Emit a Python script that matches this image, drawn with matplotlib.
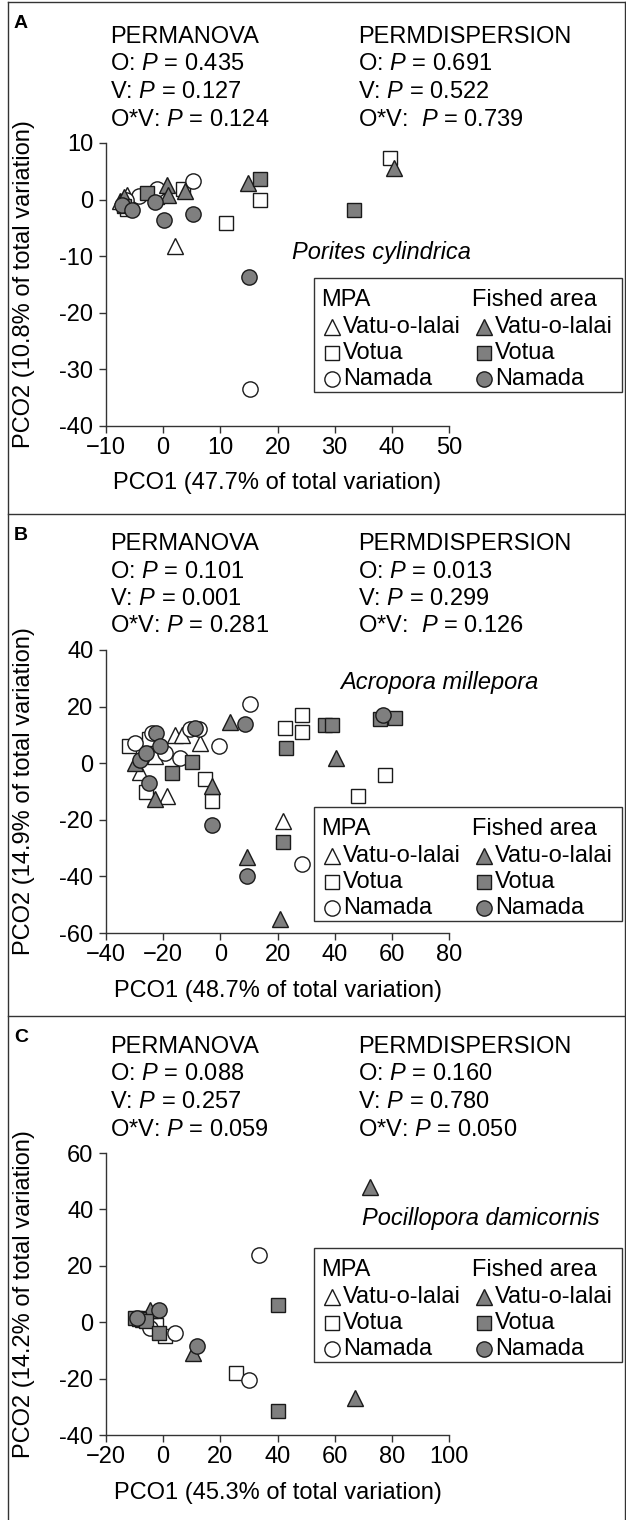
import matplotlib
matplotlib.use("Agg")
import matplotlib.pyplot as plt
from matplotlib.lines import Line2D
from matplotlib.patches import Rectangle

plt.rcParams['font.family'] = ['Liberation Sans', 'DejaVu Sans']
plt.rcParams['mathtext.fontset'] = 'custom'
plt.rcParams['mathtext.rm'] = 'Liberation Sans'
plt.rcParams['mathtext.it'] = 'Liberation Sans:italic'

W, H = 626, 1520
FS = 17

# ---- data: (PCO1, PCO2) per site, MPA = open, fished = filled ----
sites = ['Vatu-o-lalai', 'Votua', 'Namada']
markers = ['^', 's', 'o']

# A  Porites cylindrica
a_mpa_vatu = [(2, -8.2), (-6.3, 0.8), (-7.5, -0.3)]
a_mpa_votua = [(-6.3, -1.7), (-1, 0.4), (3.5, 1.9), (11, -4.2), (17, -0.1), (39.7, 7.3)]
a_mpa_namada = [(-4.2, 0.6), (-1, 1.9), (5.3, 3.3), (15.2, -33.4), (-6.5, 0)]
a_fish_vatu = [(-6.8, 0.5), (0.7, 2.6), (0.9, 0.8), (3.8, 1.5), (14.9, 2.9), (40.3, 5.6)]
a_fish_votua = [(-2.8, 1.2), (-6.8, -1.2), (17, 3.6), (33.3, -1.8)]
a_fish_namada = [(-7.2, -1), (-5.4, -1.9), (-1.4, -0.4), (0.2, -3.6), (5.3, -2.6), (15.1, -13.7)]

# B  Acropora millepora
b_mpa_vatu = [(-28, -3), (-23, 2.5), (-18.5, -11.5), (-16, 10), (-13.5, 10), (-7, 7), (22, -20.5)]
b_mpa_votua = [(-32, 6), (-25, 8.5), (-26, -10), (-5.5, -5.5), (-3, -13.5), (22.5, 12.5),
               (28.5, 17), (28.5, 11), (48, -11.5), (57.5, -4)]
b_mpa_namada = [(-30, 7), (-24, 10.5), (-19.5, 3.6), (-14, 2), (-10.5, 12), (-7.5, 12),
                (-0.5, 6), (10.5, 21), (28.5, -35.5)]
b_fish_vatu = [(-30, 0), (-23, -12.5), (-3, -8), (3.5, 14.5), (9.5, -33), (21, -55), (40.5, 2)]
b_fish_votua = [(-17, -3.5), (-10, 0.3), (23, 5.5), (22, -28), (36.5, 13.5), (39, 13.5),
                (56, 15.6), (61, 16)]
b_fish_namada = [(-28, 1), (-26, 3.5), (-22.5, 10.7), (-21, 6), (-25, -7), (-9, 12.5),
                 (-3, -22), (8.5, 14), (9.5, -40), (57, 17)]

# C  Pocillopora damicornis
c_mpa_vatu = [(-5, 3), (-7, 1)]
c_mpa_votua = [(-2.5, -1), (0.5, -5), (25.5, -18), (-8, 1.5)]
c_mpa_namada = [(-4.5, -2), (4, -4), (30, -20.5), (33.5, 24)]
c_fish_vatu = [(-4.5, 4.5), (10.5, -11), (67, -27), (72.5, 48)]
c_fish_votua = [(-10, 1.5), (-8.5, 1), (-6, 0.5), (-1.5, -4), (40, 6), (40, -31.5)]
c_fish_namada = [(-9, 1.5), (-1.5, 4.5), (12, -8.5)]

letters = ['A', 'B', 'C']
species = ['Porites cylindrica', 'Acropora millepora', 'Pocillopora damicornis']
permanova = [['0.435', '0.127', '0.124'], ['0.101', '0.001', '0.281'], ['0.088', '0.257', '0.059']]
permdisp = [['0.691', '0.522', '0.739'], ['0.013', '0.299', '0.126'], ['0.160', '0.780', '0.050']]
ov_space = ['  ', '  ', ' ']
pco1 = ['47.7', '48.7', '45.3']
pco2 = ['10.8', '14.9', '14.2']
xlims = [(-10, 50), (-40, 80), (-20, 100)]
ylims = [(-40, 10), (-60, 40), (-40, 60)]
xticks = [[-10, 0, 10, 20, 30, 40, 50], [-40, -20, 0, 20, 40, 60, 80], [-20, 0, 20, 40, 60, 80, 100]]
yticks = [[-40, -30, -20, -10, 0, 10], [-60, -40, -20, 0, 20, 40], [-40, -20, 0, 20, 40, 60]]

panel_data = [
    [a_mpa_vatu, a_mpa_votua, a_mpa_namada, a_fish_vatu, a_fish_votua, a_fish_namada],
    [b_mpa_vatu, b_mpa_votua, b_mpa_namada, b_fish_vatu, b_fish_votua, b_fish_namada],
    [c_mpa_vatu, c_mpa_votua, c_mpa_namada, c_fish_vatu, c_fish_votua, c_fish_namada],
]

# layout in pixels (y from top)
ax_top = [143, 650, 1153]
ax_bot = [426, 933, 1435]
seps = [2, 514, 1016]
species_pos = [(292, 253), (340, 682), (362, 1218)]
legend_top = [278, 807, 1248]

GRAY = '#7f7f7f'
EDGE = '#1a1a1a'
msizes = {'^': 12, 's': 10, 'o': 11}


def fx(px):
    return px / W


def fy(py):
    return 1 - py / H


def ftext(px, py, s, **kw):
    fig.text(fx(px), fy(py), s, fontsize=kw.pop('fontsize', FS), va='center', **kw)


def fmarker(px, py, m, face):
    fig.add_artist(Line2D([fx(px)], [fy(py)], marker=m, markersize=msizes[m], ls='none',
                          markerfacecolor=face, markeredgecolor=EDGE, markeredgewidth=1,
                          transform=fig.transFigure))


def fmt(v, minus):
    return str(v).replace('-', minus)


fig = plt.figure(figsize=(W / 100, H / 100), dpi=100)

for i in range(3):
    h = ax_bot[i] - ax_top[i]
    ax = fig.add_axes([fx(106), fy(ax_bot[i]), 343 / W, h / H])
    for j, pts in enumerate(panel_data[i]):
        m = markers[j % 3]
        face = 'white' if j < 3 else GRAY
        xs = [p[0] for p in pts]
        ys = [p[1] for p in pts]
        ax.plot(xs, ys, ls='none', marker=m, markersize=msizes[m], markerfacecolor=face,
                markeredgecolor=EDGE, markeredgewidth=1, clip_on=False)
    ax.set_xlim(*xlims[i])
    ax.set_ylim(*ylims[i])
    ax.set_xticks(xticks[i])
    ax.set_xticklabels([fmt(v, '\u2212') for v in xticks[i]])
    ax.set_yticks(yticks[i])
    ax.set_yticklabels([fmt(v, '-') for v in yticks[i]])
    for s in ['top', 'right']:
        ax.spines[s].set_visible(False)
    for s in ['left', 'bottom']:
        ax.spines[s].set_color('#333333')
        ax.spines[s].set_linewidth(1)
    ax.tick_params(direction='out', length=5, width=1, color='#333333', labelsize=FS)
    ax.tick_params(axis='x', pad=3)
    ax.tick_params(axis='y', pad=4)
    ax.set_xlabel('PCO1 (%s%% of total variation)' % pco1[i], fontsize=FS)
    ax.set_ylabel('PCO2 (%s%% of total variation)' % pco2[i], fontsize=FS)
    ax.xaxis.set_label_coords(0.5, -46.5 / h)
    ax.yaxis.set_label_coords(-71 / 343, 0.5)

    # header text
    t0 = ax_top[i] - 106
    ftext(14, seps[i] + 22, letters[i], fontweight='bold', fontsize=14)
    ftext(110, t0, 'PERMANOVA')
    ftext(358, t0, 'PERMDISPERSION')
    labs = ['O: ', 'V: ', 'O*V: ']
    for k in range(3):
        ftext(110, t0 + 27.5 * (k + 1), labs[k] + '$P$ = ' + permanova[i][k])
        lab = labs[k] if k < 2 else 'O*V:' + ov_space[i]
        ftext(358, t0 + 27.5 * (k + 1), lab + '$P$ = ' + permdisp[i][k])

    sx, sy = species_pos[i]
    ftext(sx, sy, species[i], style='italic')

    # legend box
    lt = legend_top[i]
    fig.add_artist(Rectangle((fx(314), fy(lt + 114)), (622 - 314) / W, 114 / H, fill=False,
                             edgecolor='#333333', linewidth=1, transform=fig.transFigure))
    ftext(321, lt + 22, 'MPA')
    ftext(472, lt + 22, 'Fished area')
    for k in range(3):
        ry = lt + 49 + 26 * k
        fmarker(332, ry, markers[k], 'white')
        ftext(343, ry, sites[k])
        fmarker(484, ry, markers[k], GRAY)
        ftext(495, ry, sites[k])

# panel frame
fc = '#333333'
fig.add_artist(Line2D([fx(8), fx(8)], [fy(2), fy(1520)], color=fc, lw=1, transform=fig.transFigure))
fig.add_artist(Line2D([fx(625), fx(625)], [fy(2), fy(1520)], color=fc, lw=1, transform=fig.transFigure))
for s in seps:
    fig.add_artist(Line2D([fx(8), fx(625)], [fy(s), fy(s)], color=fc, lw=1, transform=fig.transFigure))

fig.savefig('out.png', dpi=100)
